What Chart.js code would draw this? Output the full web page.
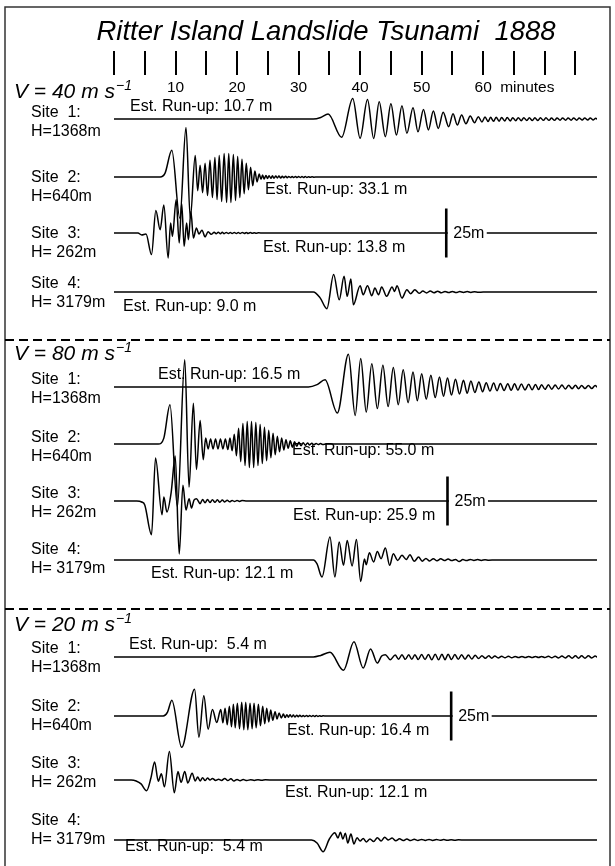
<!DOCTYPE html>
<html>
<head>
<meta charset="utf-8">
<script src="https://cdn.jsdelivr.net/npm/chart.js@4.4.0/dist/chart.umd.min.js"></script>
<style>
  html, body { margin: 0; padding: 0; background: #fff; }
  #wrap { position: relative; width: 615px; height: 866px; overflow: hidden; }
  canvas { display: block; }
</style>
</head>
<body>
<div id="wrap"><canvas id="c" width="615" height="866"></canvas></div>
<script>
// ---- Figure data -------------------------------------------------------
const titleText = 'Ritter Island Landslide Tsunami  1888';
const minuteTicks = [0, 5, 10, 15, 20, 25, 30, 35, 40, 45, 50, 55, 60, 65, 70, 75];
const minuteLabels = [10, 20, 30, 40, 50, 60];
const speeds = [40, 80, 20];
const siteLabels = ['Site  1:', 'Site  2:', 'Site  3:', 'Site  4:'];
const depthLabels = ['H=1368m', 'H=640m', 'H= 262m', 'H= 3179m'];
const runup40 = [10.7, 33.1, 13.8, 9.0];
const runup80 = [16.5, 55.0, 25.9, 12.1];
const runup20 = [5.4, 16.4, 12.1, 5.4];
const scaleBarMetres = 25;

// Water-surface records: [minutes, metres]
const v40s1 = [[0,0],[32.4,0],[33.6,0.8],[34.8,2.5],[37.0,-9.3],[38.8,10.5],[40.0,-9.8],[41.2,9.9],[42.2,-9.9],[43.1,8.8],[44.1,-9.0],[45.0,7.8],[45.9,-8.2],[46.8,6.8],[47.6,-7.3],[48.6,5.8],[49.4,-6.5],[50.3,4.9],[51.1,-5.6],[51.9,4.1],[52.7,-4.8],[53.5,3.4],[54.4,-3.9],[55.1,2.7],[55.8,-3.1],[56.5,2.0],[57.2,-2.4],[57.9,1.5],[58.6,-1.9],[59.2,1.2],[59.8,-1.5],[60.3,1.0],[60.8,-1.3],[61.2,0.9],[61.7,-1.2],[62.1,0.9],[62.6,-1.1],[63.0,0.8],[63.5,-1.0],[63.9,0.8],[64.4,-1.0],[64.8,0.7],[65.3,-0.9],[65.7,0.7],[66.2,-0.9],[66.6,0.7],[67.1,-0.8],[67.5,0.6],[68.0,-0.8],[68.4,0.6],[68.9,-0.8],[69.3,0.6],[69.8,-0.7],[70.2,0.6],[70.7,-0.7],[71.1,0.5],[71.6,-0.7],[72.0,0.5],[72.5,-0.6],[72.9,0.5],[73.4,-0.6],[73.8,0.5],[74.3,-0.6],[74.7,0.5],[75.2,-0.6],[75.6,0.5],[76.1,-0.5],[76.5,0.5],[77.0,-0.5],[77.4,0.5],[77.9,-0.5],[78.3,0.4],[78.5,0]];
const v40s2 = [[0,0],[7.5,0],[8.3,2],[9.4,13.6],[10.7,-21],[11.7,25.2],[12.4,-21],[13.2,11],[13.6,-7],[14.0,6],[14.4,-8],[14.8,7],[15.2,-9.5],[15.6,8.5],[16.0,-10.5],[16.4,10],[16.75,-11.5],[17.1,11],[17.5,-12.5],[17.9,12],[18.3,-13],[18.65,12],[19.0,-13],[19.4,11.5],[19.75,-12],[20.1,10.5],[20.45,-10.5],[20.8,9],[21.15,-8.5],[21.5,7],[21.85,-6.5],[22.2,5],[22.55,-4.5],[22.9,3],[23.25,-2.5],[23.6,1.5],[23.9,-1.2],[24.15,1.0],[24.4,-1.0],[24.7,0.8],[24.95,-0.8],[25.2,0.7],[25.5,-0.7],[25.75,0.6],[26.0,-0.6],[26.3,0.5],[26.55,-0.5],[26.8,0.5],[27.1,-0.5],[27.35,0.4],[27.6,-0.4],[27.9,0.4],[28.15,-0.4],[28.4,0.3],[28.7,-0.3],[28.95,0.3],[29.2,-0.3],[29.5,0.3],[29.75,-0.3],[30.0,0.25],[30.3,-0.25],[30.55,0.2],[30.8,-0.2],[31.1,0.2],[31.35,-0.2],[31.6,0.15],[31.9,-0.15],[32.2,0.1],[32.5,-0.1],[33.0,0],[78.5,0]];
const v40s3 = [[0,0],[3.9,0],[4.5,-1],[5.2,-0.5],[6.1,-11],[6.8,11.5],[7.5,1.7],[8.1,14.3],[8.8,-12.7],[9.2,5.1],[9.5,-1.7],[10.1,17],[10.6,-5.1],[11.0,15],[11.4,-6.8],[11.8,5.1],[12.1,-3.4],[12.5,11],[12.9,-2.6],[13.4,2.6],[13.8,-0.5],[14.3,1.4],[14.8,-2],[15.3,0.7],[15.8,-0.7],[16.3,0.4],[16.6,-0.4],[16.95,0.35],[17.3,-0.35],[17.6,0.35],[17.9,-0.35],[18.25,0.3],[18.6,-0.3],[18.9,0.3],[19.2,-0.3],[19.55,0.3],[19.9,-0.3],[20.2,0.25],[20.5,-0.25],[20.85,0.25],[21.2,-0.2],[21.5,0.2],[21.8,-0.2],[22.15,0.2],[22.5,-0.15],[22.8,0.15],[23.1,-0.1],[23.5,0.1],[24.2,0],[78.5,0]];
const v40s4 = [[0,0],[32.4,0],[33.5,-3],[34.6,-8.5],[35.7,8.9],[36.6,-4],[37.4,8],[37.9,-2.2],[38.5,6.6],[38.9,-6.5],[40.0,3.2],[40.5,-1.4],[41.2,3.2],[41.9,-1.9],[42.4,2.0],[43.0,-1.4],[43.5,2.6],[44.3,-2.2],[45.2,2.6],[45.6,0.3],[46.0,3.2],[46.8,-3.1],[47.6,1.2],[48.2,-0.9],[48.9,1.2],[49.6,-0.7],[50.2,0.5],[50.8,-0.5],[51.4,0.5],[52.0,-0.4],[52.6,0.4],[53.2,-0.4],[53.8,0.3],[54.4,-0.3],[55.0,0.3],[55.6,-0.3],[56.2,0.2],[56.8,-0.2],[57.4,0.2],[58.0,-0.2],[58.6,0.15],[59.2,-0.15],[60.0,0],[78.5,0]];

const v80s1 = [[0,0],[31.6,0],[33.0,1.2],[34.3,3.7],[36.3,-13.3],[38.1,16.7],[39.2,-14.5],[40.1,14.5],[41.0,-12.8],[41.9,11.9],[42.8,-11],[43.7,11.1],[44.55,-10],[45.4,9.9],[46.2,-9],[47.0,8.8],[47.8,-8],[48.6,7.7],[49.3,-7],[50.0,6.8],[50.75,-6.2],[51.5,6.0],[52.2,-5.4],[52.9,5.1],[53.55,-4.7],[54.2,4.6],[54.85,-4.1],[55.5,3.9],[56.15,-3.6],[56.8,3.4],[57.4,-3.2],[58.0,3.1],[58.65,-2.8],[59.3,2.6],[59.9,-2.4],[60.5,2.2],[61.1,-2.1],[61.7,2.0],[62.25,-1.9],[62.8,1.8],[63.4,-1.8],[64.0,1.7],[64.55,-1.7],[65.1,1.6],[65.65,-1.6],[66.2,1.5],[66.8,-1.5],[67.4,1.4],[67.95,-1.4],[68.5,1.3],[69.0,-1.3],[69.5,1.2],[70.05,-1.2],[70.6,1.1],[71.15,-1.1],[71.7,1.0],[72.25,-1.0],[72.8,1.0],[73.35,-1.0],[73.9,0.9],[74.45,-0.9],[75.0,0.9],[75.5,-0.9],[76.0,0.8],[76.55,-0.8],[77.1,0.8],[77.65,-0.8],[78.2,0.8],[78.5,0]];
const v80s2 = [[0,0],[7.2,0],[8.1,3],[9.1,20],[10.3,-32],[11.5,43],[12.2,-22],[12.9,20.8],[13.4,-13],[14.0,12],[14.5,-8],[14.9,3],[15.3,-2.5],[15.7,2.5],[16.1,-2.5],[16.5,2.5],[16.9,-2.5],[17.3,2.5],[17.7,-2.5],[18.1,2.5],[18.5,-2.8],[18.85,3],[19.2,-3.5],[19.55,5],[19.9,-6],[20.25,8],[20.6,-9],[20.95,10.5],[21.3,-11],[21.65,11.5],[22.0,-12],[22.35,11.5],[22.7,-12],[23.05,11],[23.4,-11],[23.75,10],[24.1,-10],[24.45,8.5],[24.8,-8.5],[25.15,7],[25.5,-7],[25.85,5.5],[26.2,-5.5],[26.55,4],[26.9,-4],[27.25,3],[27.6,-3],[27.95,2.2],[28.3,-2.2],[28.65,1.6],[29.0,-1.6],[29.35,1.2],[29.7,-1.2],[30.05,0.9],[30.4,-0.9],[30.75,0.7],[31.1,-0.7],[31.45,0.5],[31.8,-0.5],[32.15,0.4],[32.5,-0.4],[32.85,0.3],[33.2,-0.3],[33.55,0.2],[33.9,-0.2],[34.5,0],[78.5,0]];
const v80s3 = [[0,0],[3.7,0],[4.5,-0.5],[5.0,-2],[6.1,-17.2],[6.75,22],[7.8,-7],[8.1,2],[8.6,-5.6],[9.3,4.6],[9.95,23],[10.6,-27],[11.2,8],[11.7,-4.6],[12.2,1.2],[12.6,-3.6],[13.0,0.5],[13.4,1.2],[14.0,-1.4],[14.4,0.8],[14.8,-0.9],[15.2,0.8],[15.6,-0.8],[16.0,0.7],[16.4,-0.7],[16.8,0.6],[17.2,-0.6],[17.6,0.5],[18.0,-0.5],[18.4,0.4],[18.8,-0.4],[19.2,0.3],[19.6,-0.3],[20.0,0.3],[20.4,-0.2],[20.8,0.2],[21.6,0],[78.5,0]];
const v80s4 = [[0,0],[32.4,0],[33.0,-2],[33.8,-8.7],[35.1,11.7],[35.9,-8.7],[36.6,9.2],[37.3,-2.7],[37.9,10],[38.7,-3],[39.4,10.5],[40.1,-11],[40.7,0.5],[41.0,-2.4],[41.5,3.7],[42.2,-1],[42.8,4.4],[43.4,0.7],[44.1,6.1],[44.8,-2.7],[45.4,3.2],[46.1,-0.2],[46.8,2.4],[47.5,0.3],[48.1,2.7],[48.8,-0.7],[49.5,1.5],[50.1,-0.6],[50.7,0.8],[51.3,-0.5],[51.9,0.7],[52.5,-0.4],[53.1,0.6],[53.7,-0.3],[54.3,0.5],[54.9,-0.3],[55.5,0.3],[56.1,-0.8],[56.7,0.2],[57.3,-0.3],[57.9,0.3],[58.5,-0.2],[59.1,0.2],[59.7,-0.2],[60.3,0.15],[60.9,-0.1],[62.0,0],[78.5,0]];

const v20s1 = [[0,0],[32.4,0],[33.6,0.8],[35.1,2.4],[37.3,-6.8],[39.0,7.8],[40.5,-5.6],[41.7,4.1],[42.8,-3.1],[43.5,0.5],[44.1,1.2],[44.9,-1.4],[45.7,1.0],[46.25,-1.1],[46.8,1.1],[47.35,-1.2],[47.9,1.2],[48.4,-1.2],[48.9,1.2],[49.45,-1.3],[50.0,1.3],[50.55,-1.3],[51.1,1.3],[51.65,-1.4],[52.2,1.4],[52.75,-1.4],[53.3,1.4],[53.8,-1.4],[54.3,1.4],[54.85,-1.3],[55.4,1.3],[55.95,-1.2],[56.5,1.2],[57.05,-1.1],[57.6,1.0],[58.15,-1.0],[58.7,0.9],[59.25,-0.8],[59.8,0.7],[60.35,-0.7],[60.9,0.6],[61.4,-0.6],[61.9,0.5],[62.45,-0.5],[63.0,0.4],[63.55,-0.4],[64.1,0.4],[64.65,-0.4],[65.2,0.3],[65.75,-0.3],[66.3,0.3],[66.85,-0.3],[67.4,0.3],[67.95,-0.3],[68.5,0.3],[69.0,-0.3],[69.5,0.3],[70.05,-0.3],[70.6,0.4],[71.15,-0.4],[71.7,0.4],[72.25,-0.5],[72.8,0.5],[73.35,-0.5],[73.9,0.6],[74.45,-0.6],[75.0,0.6],[75.5,-0.6],[76.0,0.6],[76.55,-0.6],[77.1,0.6],[77.65,-0.5],[78.2,0.5],[78.5,0]];
const v20s2 = [[0,0],[8.0,0],[8.7,2],[9.4,8],[11.0,-16],[13.1,13.7],[13.8,-10.8],[14.6,10.3],[15.3,-6.7],[16.0,3.3],[16.7,-3.3],[17.35,3.3],[17.7,-3.5],[18.05,4],[18.4,-4.5],[18.75,5],[19.1,-5.5],[19.4,6],[19.7,-6],[20.05,6.5],[20.4,-6.5],[20.76,7],[21.1,-7],[21.41,7],[21.75,-7],[22.11,6.5],[22.45,-6.5],[22.76,6.5],[23.1,-6],[23.47,6],[23.8,-5],[24.17,5],[24.5,-4],[24.82,4],[25.15,-3],[25.47,3],[25.8,-2.2],[26.18,2.2],[26.5,-1.5],[26.83,1.5],[27.2,-1.0],[27.53,1.0],[27.8,-0.8],[28.1,0.7],[28.35,-0.6],[28.6,0.6],[28.9,-0.5],[29.15,0.5],[29.4,-0.5],[29.7,0.4],[29.95,-0.4],[30.2,0.4],[30.5,-0.3],[30.75,0.3],[31.0,-0.3],[31.3,0.3],[31.55,-0.3],[31.8,0.25],[32.1,-0.25],[32.35,0.2],[32.6,-0.2],[32.9,0.2],[33.15,-0.2],[33.4,0.15],[33.7,-0.15],[34.0,0.1],[34.5,0],[78.5,0]];
const v20s3 = [[0,0],[2.8,0],[3.6,-0.5],[4.4,-2],[5.3,-5.5],[6.0,1],[6.6,9.2],[7.2,-0.6],[7.7,3.2],[8.2,-3.5],[9.0,14.5],[9.8,-6.5],[10.4,4.3],[10.9,-1.2],[11.5,4.3],[12.0,-1.5],[12.7,3.5],[13.2,-0.5],[13.6,1.5],[14.0,-0.5],[14.4,1.2],[14.8,-0.3],[15.2,1.0],[15.6,0],[16.0,0.8],[16.5,-0.2],[17.0,0.4],[17.5,-0.2],[18.0,0.8],[18.5,-0.3],[19.0,0.6],[19.5,-0.5],[20.0,0.3],[20.5,-0.4],[21.0,0.2],[21.6,-0.3],[22.2,0.15],[22.8,-0.2],[23.4,0.1],[24.0,-0.15],[24.6,0.1],[26.0,0],[78.5,0]];
const v20s4 = [[0,0],[32.1,0],[33.0,-1.5],[34.0,-6],[35.0,0.5],[35.9,3.7],[36.4,1],[36.8,4],[37.2,0.5],[37.6,3.5],[38.0,-1.5],[38.5,3],[39.0,-2],[39.5,1.2],[40.0,-0.5],[40.5,0.8],[41.0,-1],[41.6,0.5],[42.2,-0.8],[42.8,1.2],[43.4,-0.5],[44.0,1.4],[44.6,0],[45.2,1.0],[45.8,-0.4],[46.4,0.6],[47.0,-0.3],[47.6,0.5],[48.2,-0.3],[48.8,0.4],[49.4,-0.2],[50.0,0.3],[50.6,-0.2],[51.2,0.3],[51.8,-0.2],[52.4,0.25],[53.0,-0.15],[53.6,0.2],[54.2,-0.1],[54.8,0.15],[55.4,-0.1],[56.0,0.1],[57.0,0],[78.5,0]];

// ---- Page layout (pixels) ----------------------------------------------
const W = 615, H = 866;
const PX_PER_M = 1.96;
const FONT = '"Liberation Sans", Arial, Helvetica, sans-serif';

const panels = [
  { speed: speeds[0], runup: runup40, waves: [v40s1, v40s2, v40s3, v40s4],
    base: [119, 177, 233, 292], vLabelY: 98,
    siteY: [117, 182, 238, 288],
    runupPos: [[130, 111], [265, 194], [263, 252], [123, 311]],
    bar: { minute: 54.0, site: 2 }, pad: false },
  { speed: speeds[1], runup: runup80, waves: [v80s1, v80s2, v80s3, v80s4],
    base: [387, 444, 501, 560], vLabelY: 360,
    siteY: [384, 442, 498, 554],
    runupPos: [[158, 379], [292, 455], [293, 520], [151, 578]],
    bar: { minute: 54.2, site: 2 }, pad: false },
  { speed: speeds[2], runup: runup20, waves: [v20s1, v20s2, v20s3, v20s4],
    base: [657, 716, 780, 840], vLabelY: 631,
    siteY: [653, 711, 768, 825],
    runupPos: [[129, 649], [287, 735], [285, 797], [125, 851]],
    bar: { minute: 54.8, site: 1 }, pad: true }
];
const separators = [340, 609];
const LABEL_X = 31;

const toMetres = px => -px / PX_PER_M;

// ---- Datasets ----------------------------------------------------------
const datasets = [];
panels.forEach(p => {
  p.waves.forEach((wave, i) => {
    const offset = toMetres(p.base[i]);
    datasets.push({
      data: wave.map(([t, a]) => ({ x: t, y: offset + a })),
      borderColor: '#000',
      borderWidth: 1.5,
      pointRadius: 0,
      fill: false,
      cubicInterpolationMode: 'monotone'
    });
  });
});

function runupText(v, pad) {
  return 'Est. Run-up: ' + (pad && v < 10 ? ' ' : '') + v.toFixed(1) + ' m';
}

const figurePlugin = {
  id: 'figure',
  beforeDatasetsDraw(chart) {
    const ctx = chart.ctx, xs = chart.scales.x;
    ctx.save();
    ctx.fillStyle = '#fff';
    ctx.fillRect(0, 0, W, H);

    // frame
    ctx.strokeStyle = '#333';
    ctx.lineWidth = 1.5;
    ctx.strokeRect(5, 7, 605, 880);

    ctx.fillStyle = '#000';
    ctx.textBaseline = 'alphabetic';

    // title
    ctx.font = 'italic 27.5px ' + FONT;
    ctx.textAlign = 'center';
    ctx.fillText(titleText, 326, 40);

    // time ticks
    ctx.strokeStyle = '#000';
    ctx.lineWidth = 2;
    minuteTicks.forEach(m => {
      const x = Math.round(xs.getPixelForValue(m));
      ctx.beginPath();
      ctx.moveTo(x, 51);
      ctx.lineTo(x, 75);
      ctx.stroke();
    });
    ctx.font = '15.5px ' + FONT;
    minuteLabels.forEach(m => ctx.fillText(String(m), xs.getPixelForValue(m), 92));
    ctx.textAlign = 'left';
    ctx.fillText('minutes', xs.getPixelForValue(60) + 17, 92);

    // panel separators
    ctx.setLineDash([9, 5]);
    ctx.lineWidth = 2;
    separators.forEach(y => {
      ctx.beginPath();
      ctx.moveTo(5, y);
      ctx.lineTo(610, y);
      ctx.stroke();
    });
    ctx.setLineDash([]);

    panels.forEach(p => {
      // speed heading
      ctx.textAlign = 'left';
      ctx.font = 'italic 21px ' + FONT;
      const head = 'V = ' + p.speed + ' m s';
      ctx.fillText(head, 14, p.vLabelY);
      const hw = ctx.measureText(head).width;
      ctx.font = 'italic 14px ' + FONT;
      ctx.fillText('\u22121', 14 + hw + 1, p.vLabelY - 8);

      // site names and depths
      ctx.font = '16px ' + FONT;
      p.siteY.forEach((y, i) => {
        ctx.fillText(siteLabels[i], LABEL_X, y);
        ctx.fillText(depthLabels[i], LABEL_X, y + 19);
      });

      // run-up estimates
      ctx.font = '16px ' + FONT;
      p.runupPos.forEach(([x, y], i) => ctx.fillText(runupText(p.runup[i], p.pad), x, y));
    });
    ctx.restore();
  },
  afterDatasetsDraw(chart) {
    const ctx = chart.ctx, xs = chart.scales.x, ys = chart.scales.y;
    ctx.save();
    panels.forEach(p => {
      const centre = toMetres(p.base[p.bar.site]);
      const x = xs.getPixelForValue(p.bar.minute);
      const yTop = ys.getPixelForValue(centre + scaleBarMetres / 2);
      const yBot = ys.getPixelForValue(centre - scaleBarMetres / 2);
      const yMid = ys.getPixelForValue(centre);
      // gap in the record for the scale label
      ctx.fillStyle = '#fff';
      ctx.fillRect(x + 1.5, yMid - 4, 39, 8);
      ctx.strokeStyle = '#000';
      ctx.lineWidth = 2.6;
      ctx.beginPath();
      ctx.moveTo(x, yTop);
      ctx.lineTo(x, yBot);
      ctx.stroke();
      ctx.fillStyle = '#000';
      ctx.font = '16px ' + FONT;
      ctx.textAlign = 'left';
      ctx.fillText(scaleBarMetres + 'm', x + 7, yMid + 5);
    });
    ctx.restore();
  }
};

new Chart(document.getElementById('c'), {
  type: 'line',
  data: { datasets },
  options: {
    responsive: false,
    animation: false,
    devicePixelRatio: 1,
    events: [],
    layout: { padding: { left: 114, right: W - 597, top: 0, bottom: 0 } },
    plugins: { legend: { display: false }, tooltip: { enabled: false }, title: { display: false } },
    scales: {
      x: { type: 'linear', min: 0, max: 78.5, display: false },
      y: { type: 'linear', min: toMetres(H), max: 0, display: false }
    },
    elements: { line: { borderJoinStyle: 'round', borderCapStyle: 'round' } }
  },
  plugins: [figurePlugin]
});
</script>
</body>
</html>
